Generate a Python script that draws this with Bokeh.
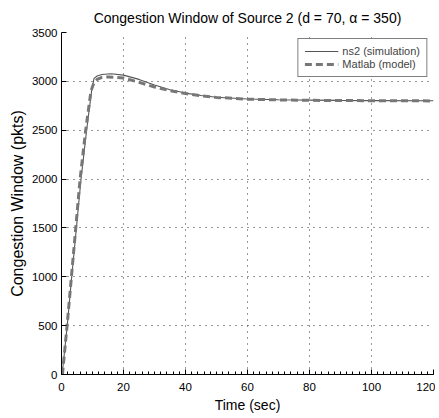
from bokeh.plotting import figure
from bokeh.embed import file_html
from bokeh.resources import INLINE
from bokeh.models import Range1d, FixedTicker, Legend, LegendItem

# ns2 (simulation)
ns2_t = [0.2, 1.85, 3.3, 4.8, 6.3, 8.1, 9.7, 10.5, 11.5, 13, 16, 20, 25, 30, 35, 40, 45, 50, 60, 70, 80, 90, 100, 120]
ns2_w = [0, 500, 1000, 1500, 2000, 2500, 2900, 3030, 3055, 3070, 3078, 3064, 3020, 2962, 2915, 2880, 2855, 2838, 2820, 2812, 2808, 2805, 2803, 2802]

# Matlab (model)
mat_t = [0.3, 1.8, 3.2, 4.6, 6.0, 7.8, 9.5, 10.5, 11.5, 13, 15, 20, 25, 30, 35, 40, 45, 50, 60, 70, 80, 100, 120]
mat_w = [0, 500, 1000, 1500, 2000, 2500, 2900, 2990, 3020, 3040, 3045, 3035, 2990, 2942, 2905, 2875, 2852, 2836, 2818, 2810, 2806, 2802, 2800]

x_ticks = [0, 20, 40, 60, 80, 100, 120]
y_ticks = [0, 500, 1000, 1500, 2000, 2500, 3000, 3500]

FONT = "Liberation Sans"

p = figure(frame_width=372, frame_height=342, output_backend="svg", toolbar_location=None,
           x_range=Range1d(0, 120), y_range=Range1d(0, 3500),
           min_border_left=61, min_border_right=2, min_border_top=32, min_border_bottom=42,
           title="Congestion Window of Source 2 (d = 70, \u03b1 = 350)")
p.title.align = "center"
p.title.text_font = FONT
p.title.text_font_size = "14px"
p.title.text_font_style = "normal"
p.title.text_color = "black"
p.title.standoff = 14
p.outline_line_color = None
p.background_fill_color = "white"

r1 = p.line(ns2_t, ns2_w, line_color="#555555", line_width=1.1)
r2 = p.line(mat_t, mat_w, line_color="#777777", line_width=3, line_dash="7 4")

p.xaxis.ticker = FixedTicker(ticks=x_ticks, minor_ticks=list(range(0, 121, 2)))
p.yaxis.ticker = FixedTicker(ticks=y_ticks)
for ax in (p.xaxis[0], p.yaxis[0]):
    ax.major_tick_in = 5
    ax.major_tick_out = 0
    ax.minor_tick_in = 3
    ax.minor_tick_out = 0
    ax.axis_line_color = "black"
    ax.major_tick_line_color = "black"
    ax.minor_tick_line_color = "black"
    ax.major_label_text_font = FONT
    ax.major_label_text_font_size = "11.5px"
    ax.major_label_text_color = "black"
    ax.axis_label_text_font = FONT
    ax.axis_label_text_font_style = "normal"
    ax.axis_label_text_color = "black"
p.yaxis.minor_tick_line_color = None
p.xaxis.axis_label = "Time (sec)"
p.yaxis.axis_label = "Congestion Window (pkts)"
p.xaxis.axis_label_text_font_size = "14px"
p.yaxis.axis_label_text_font_size = "16px"
p.xaxis.major_label_standoff = 8
p.yaxis.major_label_standoff = 4
p.xaxis.axis_label_standoff = 3
p.yaxis.axis_label_standoff = 3

p.xgrid.grid_line_color = "#333333"
p.ygrid.grid_line_color = "#333333"
p.xgrid.grid_line_dash = "1 5"
p.ygrid.grid_line_dash = "1 5"
p.xgrid.grid_line_width = 1
p.ygrid.grid_line_width = 1

legend = Legend(items=[LegendItem(label="ns2 (simulation)", renderers=[r1]),
                       LegendItem(label="Matlab (model)", renderers=[r2])],
                location="top_right")
legend.margin = 6
legend.padding = 6
legend.spacing = 1
legend.border_line_color = "black"
legend.border_line_width = 1.5
legend.background_fill_alpha = 1
legend.label_text_font = FONT
legend.label_text_font_size = "11px"
legend.label_height = 12
legend.glyph_height = 12
legend.glyph_width = 34
legend.label_standoff = 4
p.add_layout(legend)

open("out.html", "w").write(file_html(p, INLINE))
